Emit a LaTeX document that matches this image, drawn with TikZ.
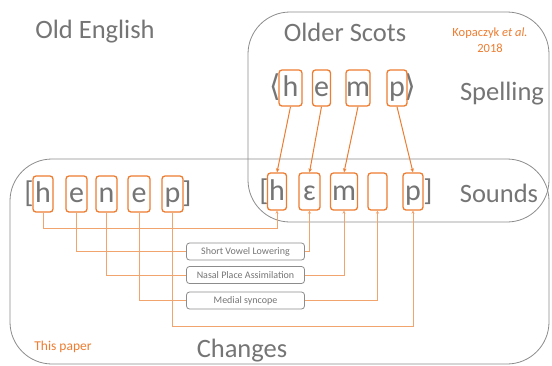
\documentclass[tikz,border=0pt]{standalone}
\usepackage{fontspec}
\setmainfont{Carlito}
\newfontfamily\dvsans{DejaVu Sans}
\usetikzlibrary{arrows.meta}
\definecolor{org}{HTML}{ED7D31}
\definecolor{txt}{HTML}{757575}
\definecolor{frm}{HTML}{8C8C8C}
\begin{document}
\begin{tikzpicture}[x=1pt,y=-1pt,
  frame/.style={draw=frm, line width=0.8pt, rounded corners=42pt},
  lbox/.style={draw=org, line width=1.3pt, rounded corners=3pt, inner sep=0pt,
    minimum height=36pt, text=txt, font=\fontsize{30}{30}\selectfont,
    text height=23pt, text depth=6pt},
  brk/.style={text=txt, inner sep=0pt, font=\fontsize{30}{30}\selectfont, text height=23pt, text depth=6pt},
  title/.style={text=txt, inner sep=0pt, font=\fontsize{26.5}{26.5}\selectfont},
  note/.style={text=org, inner sep=0pt, font=\fontsize{12.5}{16}\selectfont, align=center},
  chbox/.style={draw=frm, line width=0.8pt, rounded corners=3pt, minimum width=118pt,
    minimum height=17pt, inner sep=0pt, text=txt, font=\fontsize{10}{10}\selectfont},
  chg/.style={draw=org!70, line width=0.6pt},
  chgarr/.style={chg, -{Stealth[length=3pt,width=3pt]}},
  sparr/.style={draw=org, line width=1pt, -{Stealth[length=4pt,width=3.5pt]}}
]
\useasboundingbox (0,0) rectangle (552,365);
\fill[white] (0,0) rectangle (552,365);

% frames
\draw[frame] (248,12) rectangle (549,222);
\draw[frame] (10,159) rectangle (549,364);

% titles
\node[title] (toe) at (95,32) {Old English};
\node[title] (tos) at (345,32) {Older Scots};
\node[note] (kop) at (490,40) {Kopaczyk \textit{et al.}\\2018};
\node[title] (tsp) at (502,94) {Spelling};
\node[title] (tso) at (499,193) {Sounds};
\node[title] (tch) at (242,351) {Changes};
\node[note, font=\fontsize{13.5}{14}\selectfont] (tpa) at (63,347) {This paper};

% Old English row
\node[brk] (ob1) at (29,194) {[};
\node[brk] (ob2) at (187,194) {]};
\node[lbox, minimum width=20pt] (oh) at (43,194) {h};
\node[lbox, minimum width=21pt] (oe1) at (76.5,194) {e};
\node[lbox, minimum width=21pt] (on) at (106.5,194) {n};
\node[lbox, minimum width=22pt] (oe2) at (139,194) {e};
\node[lbox, minimum width=21pt] (op) at (172.5,194) {p};

% Spelling row
\node[brk, font=\dvsans\fontsize{30}{30}\selectfont] (sb1) at (275,88) {⟨};
\node[brk, font=\dvsans\fontsize{30}{30}\selectfont] (sb2) at (410,88) {⟩};
\node[lbox, minimum width=23pt] (sph) at (290.5,88) {h};
\node[lbox, minimum width=18pt] (spe) at (321.5,88) {e};
\node[lbox, minimum width=22pt] (spm) at (358,88) {m};
\node[lbox, minimum width=20pt] (spp) at (397,88) {p};

% Sounds row
\node[brk] (ub1) at (264,191.5) {[};
\node[brk] (ub2) at (428,191.5) {]};
\node[lbox, minimum width=19pt, minimum height=37pt] (sh) at (277,191.5) {h};
\node[lbox, minimum width=21pt, minimum height=37pt] (se) at (309.5,191.5) {ɛ};
\node[lbox, minimum width=27pt, minimum height=37pt] (sm) at (344,191.5) {m};
\node[lbox, minimum width=19pt, minimum height=37pt] (sx) at (377.5,191.5) {};
\node[lbox, minimum width=20pt, minimum height=37pt] (sp) at (413,191.5) {p};

% spelling to sounds
\draw[sparr] (sph.south) -- (sh.north);
\draw[sparr] (spe.south) -- (se.north);
\draw[sparr] (spm.south) -- (sm.north);
\draw[sparr] (spp.south) -- (sp.north);

% change boxes
\node[chbox] (svl) at (245.5,251.5) {Short Vowel Lowering};
\node[chbox] (npa) at (245.5,275) {Nasal Place Assimilation};
\node[chbox] (ms) at (245.5,300.5) {Medial syncope};

% change lines
\draw[chgarr] (oh.south) -- ++(0,16) -| (sh.south);
\draw[chg] (oe1.south) |- (svl.west);
\draw[chgarr] (svl.east) -| (se.south);
\draw[chg] (on.south) |- (npa.west);
\draw[chgarr] (npa.east) -| (sm.south);
\draw[chg] (oe2.south) |- (ms.west);
\draw[chgarr] (ms.east) -| (sx.south);
\draw[chgarr] (op.south) -- ++(0,114) -| (sp.south);
\end{tikzpicture}
\end{document}
